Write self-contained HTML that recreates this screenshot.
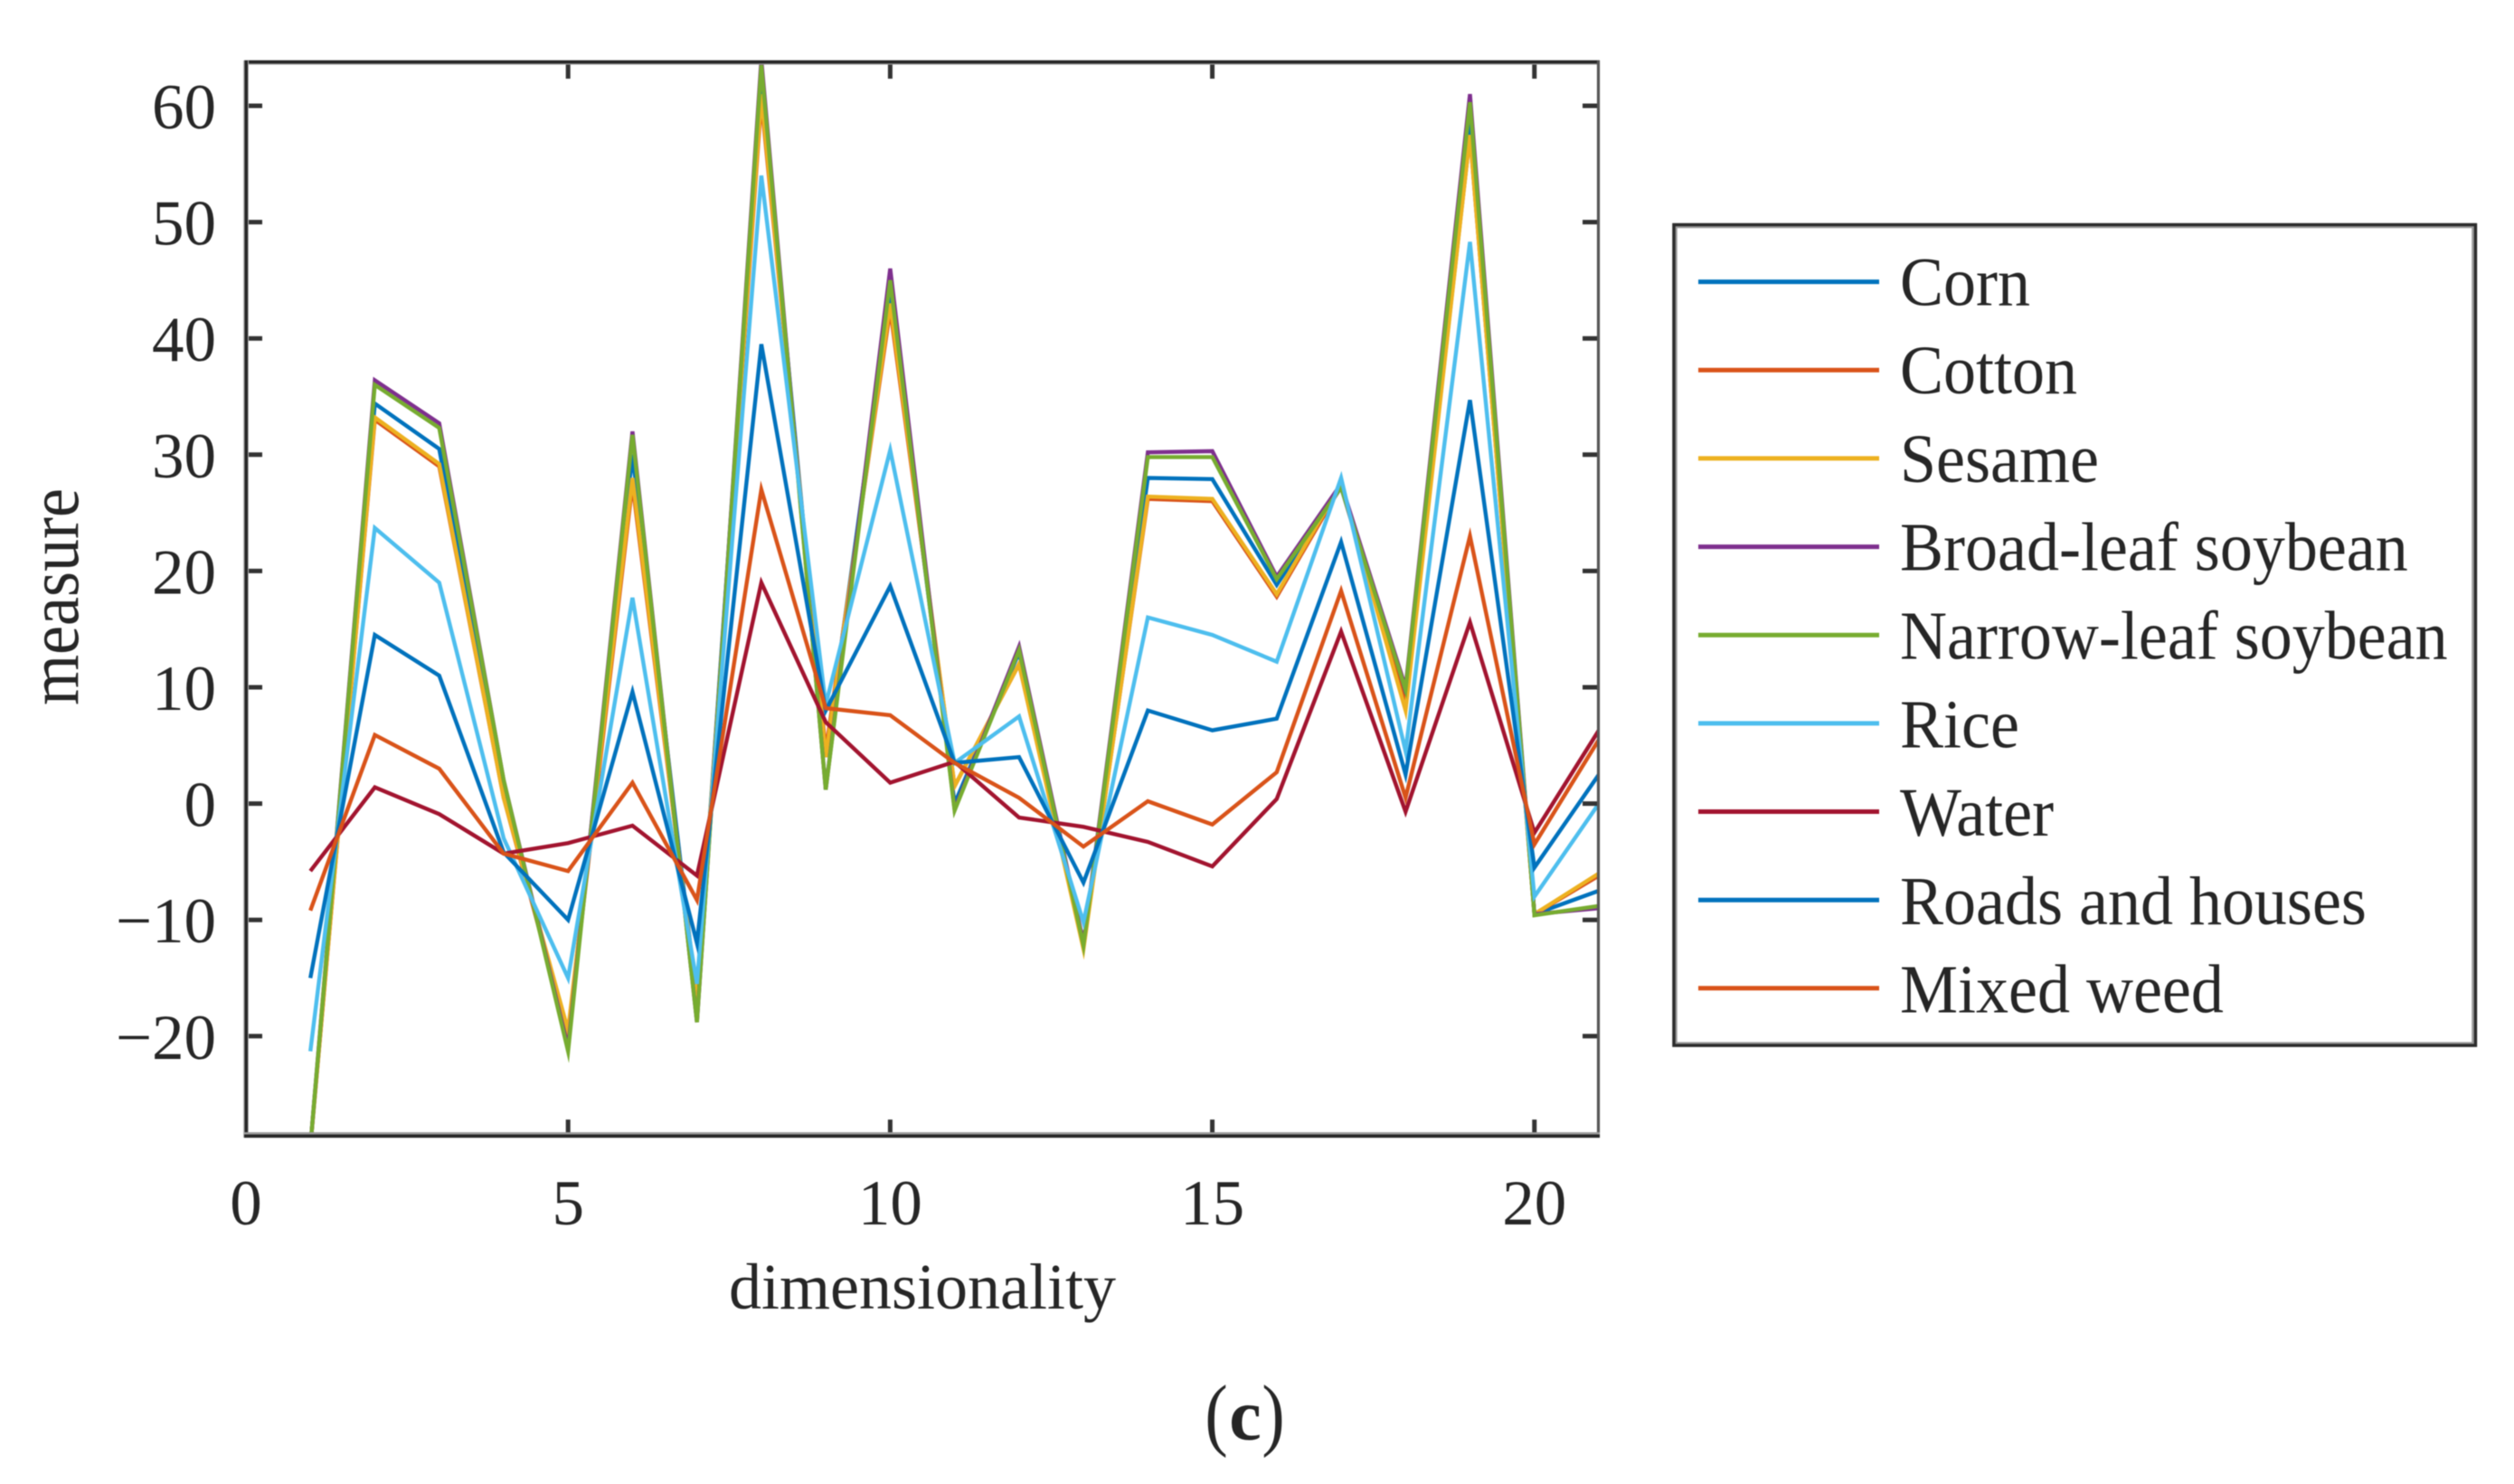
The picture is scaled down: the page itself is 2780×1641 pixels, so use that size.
<!DOCTYPE html>
<html lang="en">
<head>
<meta charset="utf-8">
<title>Measure by dimensionality (c)</title>
<style>
  html, body { margin: 0; padding: 0; background: #fff; }
  body { width: 2780px; height: 1641px; overflow: hidden; }
  svg { display: block; filter: blur(0.6px); }
  text { font-family: "Liberation Serif", "Times New Roman", serif; fill: #262626; }
</style>
</head>
<body>
<svg id="chart" xmlns="http://www.w3.org/2000/svg" width="2780" height="1641" viewBox="0 0 2780 1641">
  <defs>
    <clipPath id="plot-clip"><rect x="272" y="69" width="1496" height="1187"></rect></clipPath>
  </defs>
  <rect x="0" y="0" width="2780" height="1641" fill="#ffffff"></rect>

  <g id="series-layer" clip-path="url(#plot-clip)"></g>
  <g id="tick-layer"></g>

  <g>
    <line x1="270" y1="69" x2="1769" y2="69" stroke="#9a9a9a" stroke-width="5"></line>
    <line x1="270" y1="68.5" x2="1769" y2="68.5" stroke="#262626" stroke-width="3.4"></line>
    <line x1="1767.5" y1="67" x2="1767.5" y2="1258" stroke="#555555" stroke-width="3.2"></line>
    <line x1="272" y1="67" x2="272" y2="1258" stroke="#b5b5b5" stroke-width="6"></line>
    <line x1="272.2" y1="67" x2="272.2" y2="1258" stroke="#262626" stroke-width="3.6"></line>
    <line x1="270" y1="1255" x2="1769" y2="1255" stroke="#9a9a9a" stroke-width="6"></line>
    <line x1="270" y1="1256.3" x2="1769" y2="1256.3" stroke="#262626" stroke-width="3.6"></line>
  </g>

  <text x="1020" y="1447" font-size="72" text-anchor="middle">dimensionality</text>
  <text transform="translate(86,660) rotate(-90) scale(1,1.1)" font-size="72" text-anchor="middle">measure</text>

  <g>
    <rect x="1852" y="249.5" width="884" height="905.5" fill="#ffffff" stroke="#9a9a9a" stroke-width="5.5"></rect>
    <rect x="1851" y="248.5" width="886.5" height="907.5" fill="none" stroke="#2b2b2b" stroke-width="3.4"></rect>
    <g id="legend-entries"></g>
  </g>

  <g>
    <text transform="translate(1345,1593) scale(1,1.17)" font-size="76" text-anchor="middle">(</text>
    <text x="1377" y="1592" font-size="80" font-weight="bold" text-anchor="middle">c</text>
    <text transform="translate(1408,1593) scale(1,1.17)" font-size="76" text-anchor="middle">)</text>
  </g>
</svg>

<script>
const xValues = [1, 2, 3, 4, 5, 6, 7, 8, 9, 10, 11, 12, 13, 14, 15, 16, 17, 18, 19, 20, 21];
const xTickLabels = [0, 5, 10, 15, 20];
const yTickLabels = [-20, -10, 0, 10, 20, 30, 40, 50, 60];

const seriesNames = ['Corn', 'Cotton', 'Sesame', 'Broad-leaf soybean', 'Narrow-leaf soybean', 'Rice', 'Water', 'Roads and houses', 'Mixed weed'];

const corn = [-29.5, 34.4, 30.5, 1, -20, 30, -17, 62, 4, 44, 0, 13, -12, 28, 27.9, 18.8, 27.2, 9, 59, -9.5, -7.5];
const cotton = [-29.5, 33, 29, 0.5, -20, 27.5, -17, 60.5, 4.5, 42.5, 1.5, 12, -12.3, 26.2, 26, 17.8, 27.3, 8.5, 57.5, -9.5, -6.2];
const sesame = [-29.5, 33.2, 29.2, 0.5, -19.5, 28, -17, 61, 4, 43, 1.5, 12, -12.5, 26.4, 26.2, 18, 27.5, 8, 57.5, -9.5, -6];
const broadLeaf = [-29.5, 36.4, 32.7, 2, -21, 32, -18.8, 64, 1.2, 46, -0.5, 13.5, -12, 30.2, 30.3, 19.5, 27.5, 10, 61, -9.5, -9];
const narrowLeaf = [-29.5, 36, 32.3, 2, -21.3, 31.7, -18.8, 63.5, 1.2, 45, -0.6, 13.2, -12.2, 29.8, 29.8, 19.3, 27.2, 9.8, 60.3, -9.6, -8.8];
const rice = [-21.3, 23.7, 19, -3, -15, 17.7, -15.5, 54, 8.5, 30.4, 3.5, 7.5, -10.2, 16, 14.5, 12.2, 28, 4.5, 48.3, -8, 0];
const water = [-5.8, 1.4, -0.9, -4.3, -3.4, -1.9, -6.2, 19, 7, 1.8, 3.6, -1.2, -2, -3.3, -5.4, 0.4, 14.8, -0.7, 15.6, -2.5, 6.3];
const roads = [-15, 14.5, 11, -4.2, -10, 9.6, -12, 39.5, 8, 18.7, 3.5, 4, -6.8, 8, 6.3, 7.3, 22.5, 2.5, 34.7, -5.5, 2.5];
const mixedWeed = [-9.2, 5.9, 3, -4.3, -5.8, 1.8, -8.3, 27, 8.2, 7.6, 3.5, 0.5, -3.7, 0.2, -1.8, 2.7, 18.3, 0.5, 23, -3.5, 5.5];

const seriesValues = [corn, cotton, sesame, broadLeaf, narrowLeaf, rice, water, roads, mixedWeed];
const seriesColors = ['#0072BD', '#D95319', '#EDB120', '#7E2F8E', '#77AC30', '#4DBEEE', '#A2142F', '#0072BD', '#D95319'];

const NS = 'http://www.w3.org/2000/svg';
function xScale(v) { return 272 + (v / 21) * 1496; }
function yScale(v) { return 888.6 - v * 12.86; }
function slug(s) { return s.toLowerCase().replace(/[^a-z0-9]+/g, '-'); }

const seriesLayer = document.getElementById('series-layer');
seriesValues.forEach(function (vals, i) {
  const pts = vals.map(function (v, k) { return xScale(xValues[k]).toFixed(1) + ',' + yScale(v).toFixed(1); }).join(' ');
  const pl = document.createElementNS(NS, 'polyline');
  pl.setAttribute('points', pts);
  pl.setAttribute('fill', 'none');
  pl.setAttribute('stroke', seriesColors[i]);
  pl.setAttribute('stroke-width', '4.4');
  pl.setAttribute('stroke-linejoin', 'miter');
  pl.setAttribute('stroke-miterlimit', '6');
  
  
  seriesLayer.appendChild(pl);
});

const tickLayer = document.getElementById('tick-layer');
function tick(x1, y1, x2, y2, name) {
  const t = document.createElementNS(NS, 'line');
  t.setAttribute('x1', x1);
  t.setAttribute('y1', y1);
  t.setAttribute('x2', x2);
  t.setAttribute('y2', y2);
  t.setAttribute('stroke', '#333333');
  t.setAttribute('stroke-width', '5');
  
  
  tickLayer.appendChild(t);
}
function label(x, y, str, anchor, name) {
  const t = document.createElementNS(NS, 'text');
  t.setAttribute('x', x);
  t.setAttribute('y', y);
  t.setAttribute('font-size', '71');
  t.setAttribute('text-anchor', anchor);
  
  
  t.textContent = str;
  tickLayer.appendChild(t);
}
xTickLabels.forEach(function (v) {
  const x = xScale(v);
  tick(x, 69, x, 87, 'x-tick-top-' + v);
  tick(x, 1256, x, 1238, 'x-tick-bottom-' + v);
  label(x, 1354, String(v), 'middle', 'x-tick-label-' + v);
});
yTickLabels.forEach(function (v) {
  const y = yScale(v);
  tick(272, y, 290, y, 'y-tick-left-' + v);
  tick(1768, y, 1750, y, 'y-tick-right-' + v);
  label(239, y + 25, String(v).replace('-', '\u2212'), 'end', 'y-tick-label-' + v);
});

const legendEntries = document.getElementById('legend-entries');
seriesNames.forEach(function (name, i) {
  const rowY = 311.6 + i * 97.65;
  const ln = document.createElementNS(NS, 'line');
  ln.setAttribute('x1', '1878');
  ln.setAttribute('y1', rowY.toFixed(1));
  ln.setAttribute('x2', '2078');
  ln.setAttribute('y2', rowY.toFixed(1));
  ln.setAttribute('stroke', seriesColors[i]);
  ln.setAttribute('stroke-width', '5');
  
  
  legendEntries.appendChild(ln);
  const tx = document.createElementNS(NS, 'text');
  tx.setAttribute('transform', 'translate(2101,' + (337.3 + i * 97.8).toFixed(1) + ') scale(1,1.06)');
  tx.setAttribute('font-size', '72');
  
  
  tx.textContent = name;
  legendEntries.appendChild(tx);
});
</script>
</body>
</html>
